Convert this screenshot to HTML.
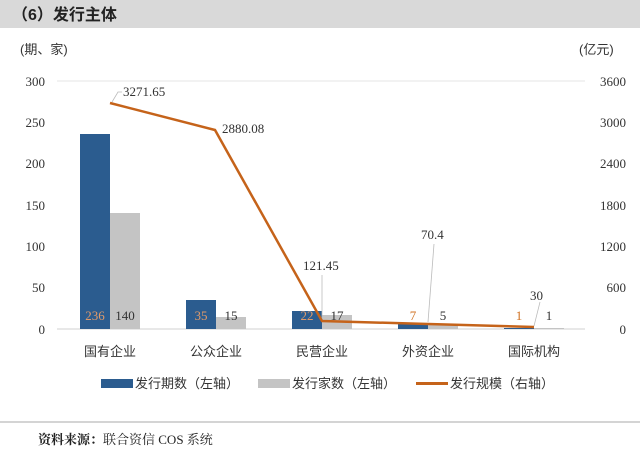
<!DOCTYPE html><html><head><meta charset="utf-8"><style>body{margin:0;background:#fff}</style></head><body>
<svg width="640" height="450" xmlns="http://www.w3.org/2000/svg" font-family="Liberation Serif, Noto Serif CJK SC, serif">
<rect x="0" y="0" width="640" height="28" fill="#d9d9d9"/>
<text x="12" y="20" font-size="16" font-family="Liberation Sans, Noto Sans CJK SC, sans-serif" font-weight="bold" fill="#222">（6）发行主体</text>
<g font-family="Liberation Sans, Noto Sans CJK SC, sans-serif" font-size="13" fill="#333">
<text x="20" y="54">(期、家)</text><text x="579" y="54">(亿元)</text></g>
<line x1="57" y1="81" x2="585" y2="81" stroke="#e6e6e6"/>
<line x1="57" y1="329" x2="585" y2="329" stroke="#d0d0d0"/>
<g font-size="13" fill="#333" text-anchor="end">
<text x="45" y="86">300</text><text x="45" y="127">250</text><text x="45" y="168">200</text><text x="45" y="210">150</text><text x="45" y="251">100</text><text x="45" y="292">50</text><text x="45" y="334">0</text></g>
<g font-size="13" fill="#333" text-anchor="end">
<text x="626" y="86">3600</text><text x="626" y="127">3000</text><text x="626" y="168">2400</text><text x="626" y="210">1800</text><text x="626" y="251">1200</text><text x="626" y="292">600</text><text x="626" y="334">0</text></g>
<g fill="#2b5c8f">
<rect x="80" y="134" width="30" height="195"/><rect x="186" y="300" width="30" height="29"/><rect x="292" y="311" width="30" height="18"/><rect x="398" y="323" width="30" height="6"/><rect x="504" y="328" width="30" height="1"/></g>
<g fill="#c4c4c4">
<rect x="110" y="213" width="30" height="116"/><rect x="216" y="317" width="30" height="12"/><rect x="322" y="315" width="30" height="14"/><rect x="428" y="325" width="30" height="4"/><rect x="534" y="328" width="30" height="1"/></g>
<g font-size="13" text-anchor="middle">
<text x="95" y="320" fill="#e09a6a">236</text><text x="125" y="320" fill="#333">140</text>
<text x="201" y="320" fill="#e09a6a">35</text><text x="231" y="320" fill="#333">15</text>
<text x="307" y="320" fill="#e09a6a">22</text><text x="337" y="320" fill="#333">17</text>
<text x="413" y="320" fill="#d07020">7</text><text x="443" y="320" fill="#333">5</text>
<text x="519" y="320" fill="#d07020">1</text><text x="549" y="320" fill="#333">1</text></g>
<g stroke="#bbb" fill="none" stroke-width="0.8">
<path d="M112 102 L118 92 L122 92"/><path d="M322 320 L322 275"/><path d="M428 322 L434 244"/><path d="M534 326 L540 302"/></g>
<polyline points="110,103 215,130 322,321 428,324 534,327" fill="none" stroke="#c5631a" stroke-width="2.5"/>
<g font-size="13" fill="#333">
<text x="123" y="96">3271.65</text><text x="222" y="133">2880.08</text><text x="303" y="270">121.45</text><text x="421" y="239">70.4</text><text x="530" y="300">30</text></g>
<g font-family="Liberation Sans, Noto Sans CJK SC, sans-serif" font-size="13" fill="#333" text-anchor="middle">
<text x="110" y="356">国有企业</text><text x="216" y="356">公众企业</text><text x="322" y="356">民营企业</text><text x="428" y="356">外资企业</text><text x="534" y="356">国际机构</text></g>
<g font-family="Liberation Sans, Noto Sans CJK SC, sans-serif" font-size="13" fill="#333">
<rect x="101" y="379" width="32" height="9" fill="#2b5c8f"/><text x="135" y="388">发行期数（左轴）</text>
<rect x="258" y="379" width="32" height="9" fill="#c4c4c4"/><text x="292" y="388">发行家数（左轴）</text>
<rect x="416" y="382" width="32" height="3" fill="#c5631a"/><text x="450" y="388">发行规模（右轴）</text></g>
<line x1="0" y1="422" x2="640" y2="422" stroke="#aaa"/>
<text x="38" y="444" font-size="13" fill="#222"><tspan font-weight="bold">资料来源：</tspan>联合资信 COS 系统</text>
</svg></body></html>
